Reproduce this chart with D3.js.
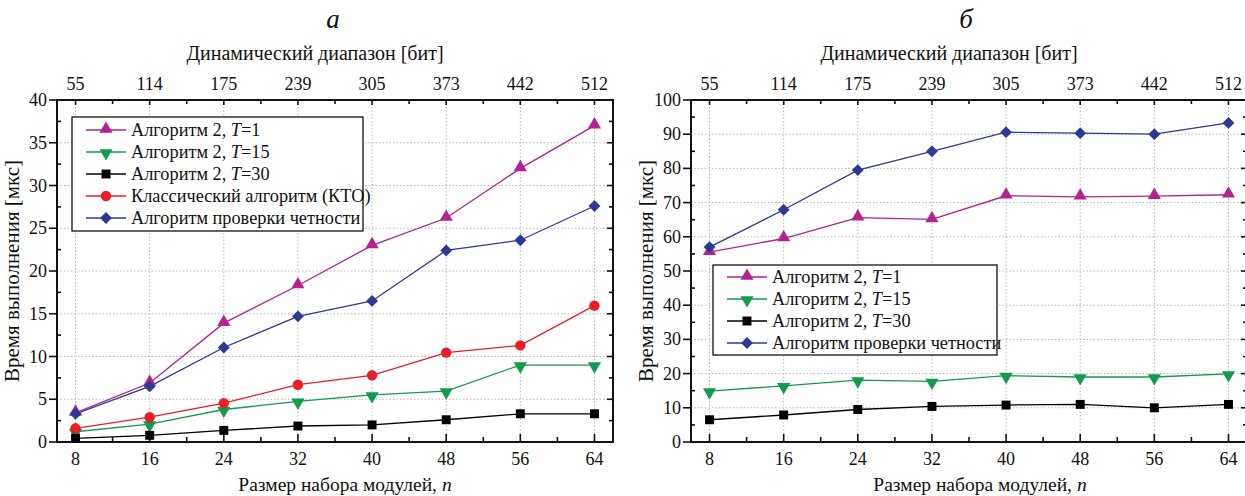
<!DOCTYPE html>
<html>
<head>
<meta charset="utf-8">
<script src="https://cdn.jsdelivr.net/npm/d3@7"></script>
<style>
  body { margin: 0; background: #fff; }
</style>
</head>
<body>
<svg id="chart" width="1245" height="496"></svg>
<script>
// x values (module set size) and top axis labels (dynamic range, bits)
const nValues = [8, 16, 24, 32, 40, 48, 56, 64];
const bitLabels = [55, 114, 175, 239, 305, 373, 442, 512];

// panel a
const a_T1 = [3.4, 6.9, 13.9, 18.3, 23.0, 26.2, 32.0, 37.0];
const a_T15 = [1.2, 2.1, 3.8, 4.75, 5.5, 5.95, 9.0, 9.0];
const a_T30 = [0.43, 0.78, 1.36, 1.87, 2.0, 2.6, 3.3, 3.3];
const a_KTO = [1.6, 2.9, 4.55, 6.7, 7.8, 10.45, 11.3, 15.95];
const a_parity = [3.3, 6.5, 11.05, 14.7, 16.5, 22.4, 23.6, 27.6];

// panel б
const b_T1 = [55.5, 59.5, 65.6, 65.1, 72.0, 71.7, 71.9, 72.3];
const b_T15 = [14.9, 16.4, 18.1, 17.7, 19.4, 19.0, 19.0, 19.9];
const b_T30 = [6.5, 7.9, 9.5, 10.4, 10.8, 11.0, 10.0, 11.0];
const b_parity = [57.0, 67.9, 79.5, 85.0, 90.6, 90.3, 90.0, 93.3];

const styles = {
    T1:     { color: "#b3228f", symbol: "tri",   label: "T=1" },
    T15:    { color: "#139b4c", symbol: "tridown", label: "T=15" },
    T30:    { color: "#000000", symbol: "square", label: "T=30" },
    KTO:    { color: "#ec1c24", symbol: "circle", label: "Классический алгоритм (КТО)" },
    parity: { color: "#2c3a93", symbol: "diamond", label: "Алгоритм проверки четности" }
};

const svg = d3.select("#chart");
const axisColor = "#111";
const fontFam = "'Liberation Serif'";

function symbolPath(kind) {
    if (kind == "tri" || kind == "tridown") return d3.symbol().type(d3.symbolTriangle).size(75)();
    if (kind == "square") return d3.symbol().type(d3.symbolSquare).size(80)();
    if (kind == "diamond") return d3.symbol().type(d3.symbolSquare).size(70)();
    return d3.symbol().type(d3.symbolCircle).size(85)();
}
function symbolRotate(kind) {
    if (kind == "tridown") return " rotate(180)";
    if (kind == "diamond") return " rotate(45)";
    return "";
}
function symbolOffset(kind) {
    // d3 triangles are centred on the centroid; nudge them a little
    if (kind == "tri") return -1;
    if (kind == "tridown") return 1;
    return 0;
}

function txt(sel) {
    return sel.append("text").style("font-family", fontFam).attr("fill", "#111");
}

function drawPanel(opts) {
    const left = opts.left, right = opts.right, top = 100, bottom = 442;
    const x = d3.scaleLinear().domain([6, 66]).range([left, right]);
    const y = d3.scaleLinear().domain([0, opts.yMax]).range([bottom, top]);
    const g = svg.append("g");

    const minorX = d3.range(12, 64, 8);
    const yMajor = d3.range(0, opts.yMax + 0.001, opts.yStep);
    const yMinor = d3.range(opts.yStep / 2, opts.yMax, opts.yStep);

    // dotted grid
    g.selectAll(".gx").data(nValues).enter().append("line")
        .attr("x1", d => x(d)).attr("x2", d => x(d))
        .attr("y1", top).attr("y2", bottom)
        .attr("stroke", "#b8b8b8").attr("stroke-width", 1).attr("stroke-dasharray", "1.5,2");
    g.selectAll(".gy").data(yMajor.slice(1, -1)).enter().append("line")
        .attr("x1", left).attr("x2", right)
        .attr("y1", d => y(d)).attr("y2", d => y(d))
        .attr("stroke", "#b8b8b8").attr("stroke-width", 1).attr("stroke-dasharray", "1.5,2");

    // frame
    g.append("rect").attr("x", left).attr("y", top)
        .attr("width", right - left).attr("height", bottom - top)
        .attr("fill", "none").attr("stroke", axisColor).attr("stroke-width", 2);

    // ticks: bottom / top inside
    const tickLines = [];
    nValues.forEach(v => {
        tickLines.push([x(v), bottom, x(v), bottom - 8]);
        tickLines.push([x(v), top, x(v), top + 5]);
    });
    minorX.forEach(v => {
        tickLines.push([x(v), bottom, x(v), bottom - 5]);
        tickLines.push([x(v), top, x(v), top + 4]);
    });
    // left: major outside, minor inside; right: inside
    yMajor.forEach(v => {
        tickLines.push([left - 8, y(v), left, y(v)]);
        tickLines.push([right, y(v), right - 6, y(v)]);
    });
    yMinor.forEach(v => {
        tickLines.push([left, y(v), left + 4, y(v)]);
        tickLines.push([right, y(v), right - 4, y(v)]);
    });
    g.selectAll(".tk").data(tickLines).enter().append("line")
        .attr("x1", d => d[0]).attr("y1", d => d[1])
        .attr("x2", d => d[2]).attr("y2", d => d[3])
        .attr("stroke", axisColor).attr("stroke-width", 1.6);

    // tick labels
    nValues.forEach(v => {
        txt(g).attr("x", x(v)).attr("y", 465)
            .attr("text-anchor", "middle").style("font-size", "18px").text(v);
    });
    bitLabels.forEach((v, i) => {
        txt(g).attr("x", x(nValues[i])).attr("y", 90)
            .attr("text-anchor", "middle").style("font-size", "18px").text(v);
    });
    yMajor.forEach(v => {
        txt(g).attr("x", left - 10).attr("y", y(v) + 6)
            .attr("text-anchor", "end").style("font-size", "18px").text(v);
    });

    // titles
    txt(g).attr("x", opts.letterX).attr("y", 28)
        .attr("text-anchor", "middle").style("font-size", "27px").style("font-style", "italic")
        .text(opts.letter);
    txt(g).attr("x", opts.topTitleX).attr("y", 60)
        .attr("text-anchor", "middle").style("font-size", "20px")
        .text("Динамический диапазон [бит]");
    const xt = txt(g).attr("x", opts.bottomTitleX).attr("y", 491)
        .attr("text-anchor", "middle").style("font-size", "19.5px");
    xt.append("tspan").text("Размер набора модулей,  ");
    xt.append("tspan").style("font-style", "italic").text("n");
    txt(g)
        .attr("transform", "translate(" + (left - 38) + "," + ((top + bottom) / 2) + ") rotate(-90)")
        .attr("text-anchor", "middle").style("font-size", "21px")
        .text("Время выполнения [мкс]");

    // series
    const line = d3.line().x((d, i) => x(nValues[i])).y(d => y(d));
    const plot = g.append("g");
    opts.series.forEach(s => {
        const st = styles[s.key];
        plot.append("path").datum(s.values)
            .attr("d", line).attr("fill", "none")
            .attr("stroke", st.color).attr("stroke-width", 1.3);
    });
    opts.series.forEach(s => {
        const st = styles[s.key];
        plot.selectAll(null).data(s.values).enter().append("path")
            .attr("d", symbolPath(st.symbol))
            .attr("transform", (d, i) => "translate(" + x(nValues[i]) + "," + (y(d) + symbolOffset(st.symbol)) + ")" + symbolRotate(st.symbol))
            .attr("fill", st.color);
    });

    // legend
    const lg = opts.legend;
    const legend = g.append("g");
    legend.append("rect").attr("x", lg.x).attr("y", lg.y)
        .attr("width", lg.w).attr("height", lg.rowH * opts.series.length + lg.pad)
        .attr("fill", "#fff").attr("stroke", axisColor).attr("stroke-width", 1.3);
    opts.series.forEach((s, i) => {
        const st = styles[s.key];
        const ry = lg.y + lg.pad / 2 + lg.rowH * (i + 0.5);
        legend.append("line")
            .attr("x1", lg.x + 14).attr("x2", lg.x + 54)
            .attr("y1", ry).attr("y2", ry)
            .attr("stroke", st.color).attr("stroke-width", 1.5);
        legend.append("path").attr("d", symbolPath(st.symbol))
            .attr("transform", "translate(" + (lg.x + 34) + "," + (ry + symbolOffset(st.symbol)) + ")" + symbolRotate(st.symbol))
            .attr("fill", st.color);
        const t = txt(legend).attr("x", lg.x + 59).attr("y", ry + 6)
            .style("font-size", "18.3px");
        if (s.key == "T1" || s.key == "T15" || s.key == "T30") {
            t.append("tspan").text("Алгоритм 2,  ");
            t.append("tspan").style("font-style", "italic").text("T");
            t.append("tspan").text(st.label.slice(1));
        } else {
            t.text(st.label);
        }
    });
}

drawPanel({
    left: 57, right: 613, yMax: 40, yStep: 5, letter: "а",
    letterX: 333, topTitleX: 315, bottomTitleX: 345,
    series: [
        { key: "T1", values: a_T1 },
        { key: "T15", values: a_T15 },
        { key: "T30", values: a_T30 },
        { key: "KTO", values: a_KTO },
        { key: "parity", values: a_parity }
    ],
    legend: { x: 72, y: 117, w: 291, rowH: 22, pad: 4 }
});

drawPanel({
    left: 691, right: 1247, yMax: 100, yStep: 10, letter: "б",
    letterX: 966, topTitleX: 949, bottomTitleX: 980,
    series: [
        { key: "T1", values: b_T1 },
        { key: "T15", values: b_T15 },
        { key: "T30", values: b_T30 },
        { key: "parity", values: b_parity }
    ],
    legend: { x: 713, y: 265, w: 284, rowH: 22, pad: 2 }
});
</script>
</body>
</html>
